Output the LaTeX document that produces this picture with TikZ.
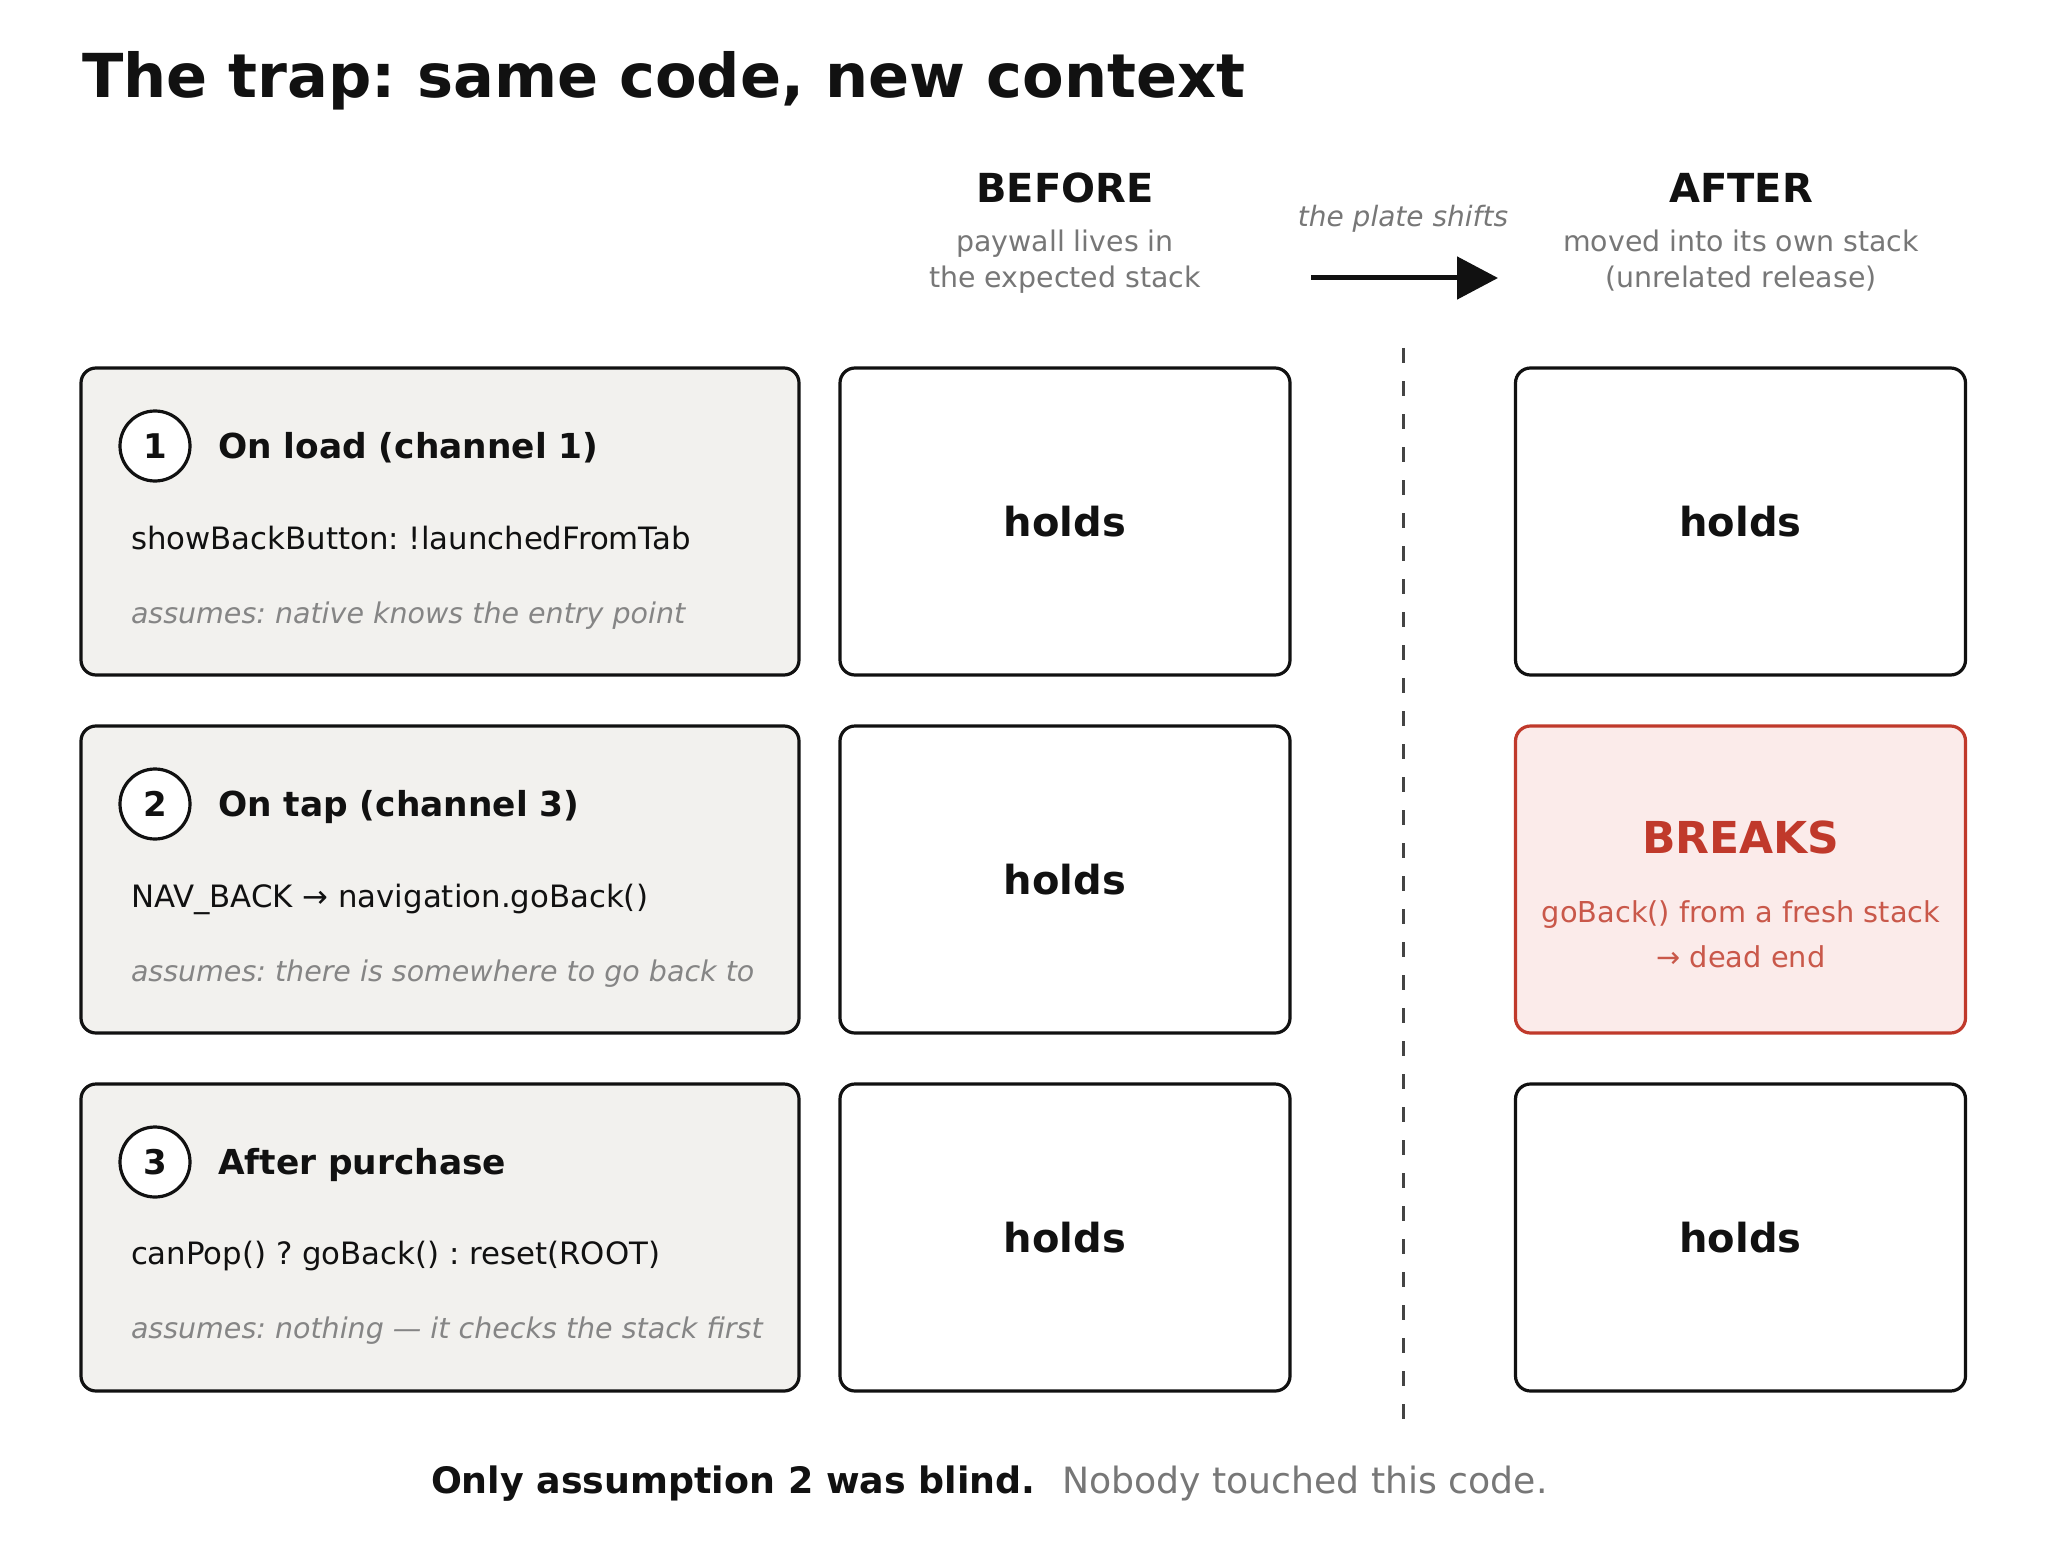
\documentclass[tikz,border=0pt]{standalone}
\usepackage{fontspec}
\setmainfont{DejaVu Sans}
\usetikzlibrary{arrows.meta}
\frenchspacing
\definecolor{ink}{HTML}{111111}
\definecolor{leftfill}{HTML}{F2F1EE}
\definecolor{subgray}{HTML}{777777}
\definecolor{assgray}{HTML}{858585}
\definecolor{brkred}{HTML}{C0392B}
\definecolor{brksub}{HTML}{C9584A}
\definecolor{brkfill}{HTML}{FBEBEA}
\definecolor{dashgray}{HTML}{444444}
\newcommand{\fs}[1]{\fontsize{#1pt}{#1pt}\selectfont}
\begin{document}
\begin{tikzpicture}[x=0.5pt,y=-0.5pt,
  txt/.style={inner sep=0pt,outer sep=0pt},
  stepbox/.style={draw=ink,line width=1.6pt,rounded corners=7.5pt,fill=leftfill,minimum width=359pt,minimum height=153.5pt,inner sep=0pt},
  statebox/.style={draw=ink,line width=1.6pt,rounded corners=7.5pt,fill=white,minimum width=225pt,minimum height=153.5pt,inner sep=0pt},
  breakbox/.style={draw=brkred,line width=1.6pt,rounded corners=7.5pt,fill=brkfill,minimum width=225pt,minimum height=153.5pt,inner sep=0pt},
  numcirc/.style={circle,draw=ink,line width=1.6pt,fill=white,minimum size=35pt,inner sep=0pt,font=\fs{17}\bfseries,text=ink},
  steptitle/.style={txt,anchor=base west,font=\fs{17.2}\bfseries,text=ink},
  codeline/.style={txt,anchor=base west,font=\fs{15.4},text=ink},
  assline/.style={txt,anchor=base west,font=\fs{14.25}\itshape,text=assgray},
  holdtxt/.style={txt,font=\fs{20}\bfseries,text=ink},
  headtxt/.style={txt,anchor=base,font=\fs{20}\bfseries,text=ink},
  headsub/.style={txt,anchor=base,font=\fs{14.2},text=subgray},
]
\useasboundingbox (0,0) rectangle (2048,1556);
\fill[white] (0,0) rectangle (2048,1556);

% title
\node[txt,anchor=base west,font=\fs{30.3}\bfseries,text=ink] (title) at (82,98) {The trap: same code, new context};

% headers
\node[headtxt] (before) at (1065,203) {BEFORE};
\node[headsub] (before1) at (1065,252) {paywall lives in};
\node[headsub] (before2) at (1065,288) {the expected stack};
\node[headtxt] (after) at (1741,203) {AFTER};
\node[headsub] (after1) at (1741,252) {moved into its own stack};
\node[headsub] (after2) at (1741,288) {(unrelated release)};
\node[txt,anchor=base,font=\fs{14}\itshape,text=subgray] (shift) at (1403,227) {the plate shifts};
\coordinate (arrS) at (1311,278);
\coordinate (arrE) at (1498,278);
\draw[ink,line width=2.5pt,-{Triangle[length=20.5pt,width=21pt]}] (arrS) -- (arrE);

% divider
\coordinate (divT) at (1403,348);
\coordinate (divB) at (1403,1432);
\draw[dashgray,line width=1.5pt,dash pattern=on 7.5pt off 9pt] (divT) -- (divB);

% row 1
\node[stepbox] (s1) at (440,521.5) {};
\node[numcirc] (n1) at (155,446) {1};
\node[steptitle] (t1) at (218,458) {On load (channel 1)};
\node[codeline] (c1) at (131,549) {showBackButton: !launchedFromTab};
\node[assline] (a1) at (131,623) {assumes: native knows the entry point};
\node[statebox] (b1) at (1065,521.5) {};
\node[holdtxt] (hb1) at (b1.center) {holds};
\node[statebox] (f1) at (1740.5,521.5) {};
\node[holdtxt] (hf1) at (f1.center) {holds};

% row 2
\node[stepbox] (s2) at (440,879.5) {};
\node[numcirc] (n2) at (155,804) {2};
\node[steptitle] (t2) at (218,816) {On tap (channel 3)};
\node[codeline] (c2) at (131,907) {NAV\_BACK → navigation.goBack()};
\node[assline] (a2) at (131,981) {assumes: there is somewhere to go back to};
\node[statebox] (b2) at (1065,879.5) {};
\node[holdtxt] (hb2) at (b2.center) {holds};
\node[breakbox] (f2) at (1740.5,879.5) {};
\node[txt,anchor=base,font=\fs{22}\bfseries,text=brkred] (brk) at (1741,853) {BREAKS};
\node[txt,anchor=base,font=\fs{14.4},text=brksub] (brk1) at (1741,922) {goBack() from a fresh stack};
\node[txt,anchor=base,font=\fs{14.4},text=brksub] (brk2) at (1741,967) {→ dead end};

% row 3
\node[stepbox] (s3) at (440,1237.5) {};
\node[numcirc] (n3) at (155,1162) {3};
\node[steptitle] (t3) at (218,1174) {After purchase};
\node[codeline] (c3) at (131,1264) {canPop() ? goBack() : reset(ROOT)};
\node[assline] (a3) at (131,1338) {assumes: nothing — it checks the stack first};
\node[statebox] (b3) at (1065,1237.5) {};
\node[holdtxt] (hb3) at (b3.center) {holds};
\node[statebox] (f3) at (1740.5,1237.5) {};
\node[holdtxt] (hf3) at (f3.center) {holds};

% footer
\node[txt,anchor=base west,font=\fs{18.2}\bfseries,text=ink] (foot1) at (431,1493) {Only assumption 2 was blind.};
\node[txt,anchor=base west,font=\fs{18.1},text=subgray] (foot2) at (1062,1493) {Nobody touched this code.};
\end{tikzpicture}
\end{document}
